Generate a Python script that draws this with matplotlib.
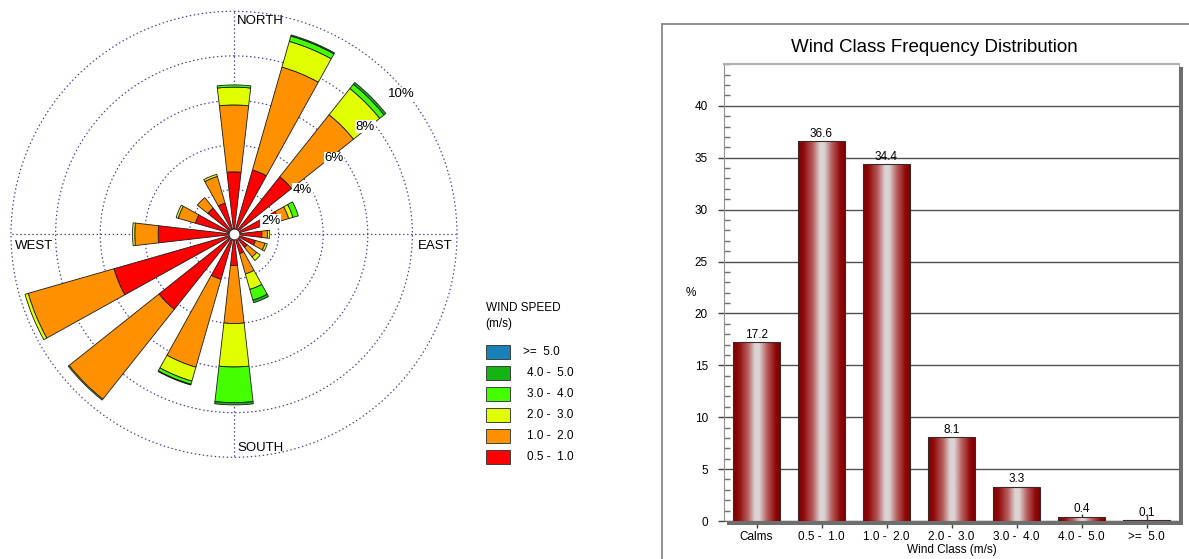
import numpy as np
import matplotlib
matplotlib.use('Agg')
import matplotlib.pyplot as plt
from matplotlib.patches import Rectangle
from matplotlib.lines import Line2D
from matplotlib.colors import LinearSegmentedColormap
from matplotlib.ticker import MultipleLocator

plt.rcParams['font.family'] = ['Liberation Sans', 'DejaVu Sans']

# ---------------- data ----------------
directions = ['N', 'NNE', 'NE', 'ENE', 'E', 'ESE', 'SE', 'SSE',
              'S', 'SSW', 'SW', 'WSW', 'W', 'WNW', 'NW', 'NNW']
dir_angles = [0, 22.5, 45, 67.5, 90, 112.5, 135, 157.5,
              180, 202.5, 225, 247.5, 270, 292.5, 315, 337.5]

# frequency (%) per direction for each wind speed class
freq_05_10 = [2.8, 3.0, 3.3, 2.1, 1.25, 1.0, 0.75, 0.9, 1.4, 2.1, 4.3, 5.6, 3.4, 1.8, 1.5, 1.45]
freq_10_20 = [3.0, 4.8, 3.55, 0.45, 0.25, 0.45, 0.55, 0.95, 2.6, 4.1, 5.15, 4.0, 1.05, 0.8, 0.6, 1.25]
freq_20_30 = [0.8, 1.2, 1.5, 0.2, 0.1, 0.1, 0.2, 0.72, 1.95, 0.65, 0.05, 0.15, 0.1, 0.1, 0.0, 0.1]
freq_30_40 = [0.1, 0.25, 0.25, 0.25, 0, 0, 0, 0.5, 1.6, 0.15, 0, 0, 0, 0, 0, 0]
freq_40_50 = [0, 0.05, 0.1, 0, 0, 0, 0, 0.12, 0.1, 0.03, 0, 0, 0, 0, 0, 0]
freq_50_up = [0] * 16

speed_colors = ['#ff0000', '#ff9000', '#e0ff00', '#44ff00', '#14b414', '#1a80b8']
legend_labels = ['0.5 -  1.0', '1.0 -  2.0', '2.0 -  3.0', '3.0 -  4.0', '4.0 -  5.0', '>=  5.0']

ring_values = [2, 4, 6, 8, 10]
ring_labels = ['2%', '4%', '6%', '8%', '10%']

wind_classes = ['Calms', '0.5 -  1.0', '1.0 -  2.0', '2.0 -  3.0', '3.0 -  4.0', '4.0 -  5.0', '>=  5.0']
class_freq = [17.2, 36.6, 34.4, 8.1, 3.3, 0.4, 0.1]

# ---------------- figure ----------------
W, H = 1189, 559
fig = plt.figure(figsize=(W / 100, H / 100), dpi=100)
fig.patch.set_facecolor('white')


def fx(x):
    return x / W


def fy(y):
    return 1 - y / H


# ---------------- wind rose ----------------
R_MAX = 10.0
cx, cy = 234, 234.3
rad = 22.3 * R_MAX
axr = fig.add_axes([fx(cx - rad), fy(cy + rad), 2 * rad / W, 2 * rad / H], projection='polar')
axr.set_theta_zero_location('N')
axr.set_theta_direction(-1)
axr.set_ylim(0, R_MAX)
axr.set_axisbelow(True)

theta = np.deg2rad(dir_angles)
bw = np.deg2rad(13)
bottom = np.zeros(16)
for vals, col in zip([freq_05_10, freq_10_20, freq_20_30, freq_30_40, freq_40_50, freq_50_up],
                     speed_colors):
    v = np.array(vals, dtype=float)
    m = v > 0
    if m.any():
        axr.bar(theta[m], v[m], width=bw, bottom=bottom[m], color=col,
                edgecolor='#1a1a1a', linewidth=0.6, zorder=3)
    bottom += v

axr.set_rgrids(ring_values, labels=[''] * len(ring_values))
axr.set_thetagrids([0, 90, 180, 270], labels=[''] * 4)
axr.grid(True, color='#3a3aa0', linestyle=(0, (1.2, 2.2)), linewidth=0.85)
for gl in axr.yaxis.get_gridlines() + axr.xaxis.get_gridlines():
    gl.set_clip_on(False)
axr.patch.set_visible(False)
axr.spines['polar'].set_visible(False)
axr.tick_params(pad=0)
axr.plot([0], [0], 'o', ms=7, mfc='white', mec='none', zorder=5)

ring_label_pos = [(69.6, 1.75), (57, 3.65), (52.8, 5.63), (50.7, 7.62), (50, 9.78)]
for (ang, r), lab in zip(ring_label_pos, ring_labels):
    axr.text(np.deg2rad(ang), r, lab, ha='center', va='center', fontsize=9.5, zorder=6,
             bbox=dict(facecolor='white', edgecolor='none', pad=0.6))

fig.text(fx(237), fy(21), 'NORTH', ha='left', va='center', fontsize=9.5)
fig.text(fx(237), fy(448.3), 'SOUTH', ha='left', va='center', fontsize=9.5)
fig.text(fx(15), fy(245.7), 'WEST', ha='left', va='center', fontsize=9.5)
fig.text(fx(418), fy(245.7), 'EAST', ha='left', va='center', fontsize=9.5)

# legend
fig.text(fx(485.5), fy(308.3), 'WIND SPEED', ha='left', va='center', fontsize=8.5)
fig.text(fx(485.5), fy(324.5), '(m/s)', ha='left', va='center', fontsize=8.5)
for i, (lab, col) in enumerate(zip(legend_labels[::-1], speed_colors[::-1])):
    top = 345 + i * 21
    fig.add_artist(Rectangle((fx(486), fy(top + 13.5)), 23.5 / W, 13.5 / H,
                             transform=fig.transFigure, facecolor=col,
                             edgecolor='#404040', linewidth=0.7))
    xt = 523 if lab.startswith('>') else 527
    fig.text(fx(xt), fy(top + 7), lab, ha='left', va='center', fontsize=8.5)

# ---------------- bar chart ----------------
# panel frame
fig.add_artist(Line2D([fx(661.5), fx(661.5)], [fy(24), fy(559)], transform=fig.transFigure,
                      color='#888888', linewidth=1.3))
fig.add_artist(Line2D([fx(661.5), fx(1189)], [fy(24), fy(24)], transform=fig.transFigure,
                      color='#888888', linewidth=1.3))

ax_l, ax_r, ax_t, ax_b = 724, 1179, 64.3, 521
axb = fig.add_axes([fx(ax_l), fy(ax_b), (ax_r - ax_l) / W, (ax_b - ax_t) / H])

# shadow of plot area
fig.add_artist(Rectangle((fx(ax_r), fy(524.5)), 3.5 / W, (524.5 - 67) / H,
                         transform=fig.transFigure, facecolor='#6e6e6e', edgecolor='none'))
fig.add_artist(Rectangle((fx(727.5), fy(524.5)), (ax_r + 3.5 - 727.5) / W, 3.5 / H,
                         transform=fig.transFigure, facecolor='#6e6e6e', edgecolor='none'))

xpos = np.arange(len(wind_classes))
bars = axb.bar(xpos, class_freq, width=0.72, facecolor='none', edgecolor='#3a2a2a',
               linewidth=0.8, zorder=4)

cmap = LinearSegmentedColormap.from_list('gr', [
    (0.0, '#7e0000'), (0.12, '#900a0a'), (0.32, '#b86060'), (0.47, '#dcd4d4'),
    (0.56, '#dcd4d4'), (0.72, '#b86060'), (0.9, '#900a0a'), (1.0, '#7e0000')])
grad = np.linspace(0, 1, 256).reshape(1, -1)
for b in bars:
    x0, w, h = b.get_x(), b.get_width(), b.get_height()
    im = axb.imshow(grad, extent=[x0, x0 + w, 0, h], aspect='auto', cmap=cmap,
                    interpolation='bilinear', zorder=3)
    im.set_clip_path(b)
for xi, v in zip(xpos, class_freq):
    axb.annotate(f'{v:.1f}', (xi, v), xytext=(0, 1), textcoords='offset points',
                 ha='center', va='bottom', fontsize=8.5, zorder=6)

axb.set_xlim(-0.5, 6.5)
axb.set_ylim(0, 44)
axb.set_xticks(xpos)
axb.set_xticklabels(wind_classes, fontsize=8.5)
axb.set_yticks(range(0, 45, 5))
axb.set_yticklabels([str(t) for t in range(0, 45, 5)], fontsize=8.5)
axb.yaxis.set_minor_locator(MultipleLocator(1))
axb.tick_params(axis='y', which='major', direction='out', length=4.5, width=1,
                color='#404040', pad=7)
axb.tick_params(axis='y', which='minor', direction='in', length=4.5, width=1, color='#707070')
axb.tick_params(axis='x', which='major', direction='inout', length=10, width=1,
                color='#404040', pad=2)
axb.set_axisbelow(True)
axb.yaxis.grid(True, which='major', color='#505050', linewidth=1)
axb.spines['top'].set_color('#b0b0b0')
axb.spines['top'].set_linewidth(1.5)
axb.spines['left'].set_color('#909090')
axb.spines['right'].set_color('#b0b0b0')
axb.spines['bottom'].set_color('#606060')

fig.text(fx(691), fy(293.3), '%', ha='center', va='center', fontsize=8.5)
fig.text(fx(951.5), fy(550.5), 'Wind Class (m/s)', ha='center', va='center', fontsize=8.5)
fig.text(fx(934), fy(47), 'Wind Class Frequency Distribution', ha='center', va='center',
         fontsize=13.5)

fig.savefig('out.png', dpi=100)
